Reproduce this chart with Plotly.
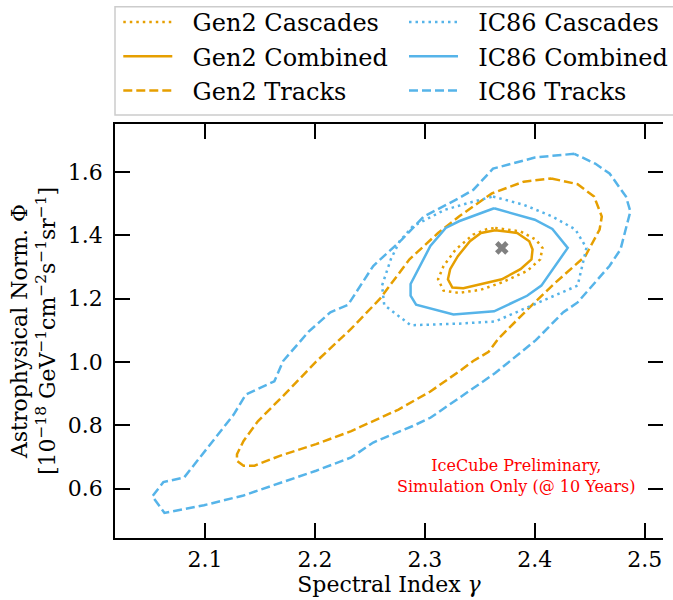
import plotly.graph_objects as go

# ---------------- data ----------------
best_fit_gamma = [2.370]
best_fit_phi = [1.360]

gen2_comb_gamma = [2.364, 2.384, 2.395, 2.398, 2.397, 2.387, 2.370, 2.351, 2.335, 2.325, 2.321, 2.323, 2.330, 2.341, 2.351, 2.364]
gen2_comb_phi = [1.416, 1.407, 1.381, 1.355, 1.324, 1.293, 1.261, 1.246, 1.233, 1.235, 1.261, 1.293, 1.334, 1.381, 1.407, 1.416]

gen2_casc_gamma = [2.364, 2.387, 2.401, 2.407, 2.405, 2.393, 2.370, 2.351, 2.331, 2.317, 2.312, 2.317, 2.328, 2.344, 2.357, 2.364]
gen2_casc_phi = [1.423, 1.412, 1.386, 1.360, 1.324, 1.287, 1.251, 1.228, 1.218, 1.225, 1.261, 1.303, 1.355, 1.402, 1.420, 1.423]

ic86_comb_gamma = [2.363, 2.400, 2.416, 2.430, 2.406, 2.393, 2.363, 2.326, 2.292, 2.287, 2.287, 2.305, 2.319, 2.331, 2.363]
ic86_comb_phi = [1.485, 1.449, 1.420, 1.360, 1.241, 1.209, 1.160, 1.150, 1.181, 1.209, 1.246, 1.366, 1.423, 1.444, 1.485]

ic86_casc_gamma = [2.362, 2.390, 2.416, 2.437, 2.447, 2.444, 2.439, 2.397, 2.364, 2.331, 2.287, 2.263, 2.261, 2.269, 2.277, 2.289, 2.318, 2.341, 2.362]
ic86_casc_phi = [1.522, 1.496, 1.459, 1.418, 1.360, 1.313, 1.241, 1.178, 1.128, 1.121, 1.116, 1.180, 1.241, 1.324, 1.381, 1.428, 1.480, 1.503, 1.522]

gen2_trk_gamma = [2.415, 2.439, 2.454, 2.461, 2.459, 2.446, 2.419, 2.397, 2.367, 2.358, 2.344, 2.331, 2.305,
                  2.276, 2.233, 2.201, 2.168, 2.145, 2.135, 2.129, 2.129, 2.135, 2.148, 2.175, 2.201,
                  2.233, 2.259, 2.286, 2.312, 2.331, 2.361, 2.390, 2.415]
gen2_trk_phi = [1.579, 1.561, 1.522, 1.459, 1.418, 1.334, 1.251, 1.178, 1.074, 1.032, 1.003, 0.970, 0.907,
                0.850, 0.782, 0.741, 0.704, 0.673, 0.673, 0.688, 0.709, 0.751, 0.813, 0.907, 1.001,
                1.105, 1.199, 1.324, 1.407, 1.459, 1.532, 1.569, 1.579]

ic86_trk_gamma = [2.436, 2.400, 2.362, 2.344, 2.331, 2.299, 2.279, 2.253, 2.230, 2.214, 2.194, 2.171,
                  2.163, 2.137, 2.126, 2.099, 2.081, 2.062, 2.052, 2.063, 2.099, 2.135, 2.201, 2.233,
                  2.253, 2.289, 2.305, 2.364, 2.401, 2.426, 2.439, 2.468, 2.478, 2.487, 2.483, 2.468,
                  2.455, 2.436]
ic86_trk_phi = [1.657, 1.645, 1.610, 1.543, 1.517, 1.459, 1.386, 1.303, 1.180, 1.157, 1.095, 1.003,
                0.939, 0.897, 0.834, 0.715, 0.636, 0.621, 0.576, 0.524, 0.548, 0.579, 0.657, 0.699,
                0.746, 0.798, 0.824, 0.965, 1.069, 1.157, 1.188, 1.303, 1.355, 1.475, 1.522, 1.595,
                1.626, 1.657]

x_ticks = [2.1, 2.2, 2.3, 2.4, 2.5]
x_ticklabels = ["2.1", "2.2", "2.3", "2.4", "2.5"]
y_ticks = [0.6, 0.8, 1.0, 1.2, 1.4, 1.6]
y_ticklabels = ["0.6", "0.8", "1.0", "1.2", "1.4", "1.6"]

# ---------------- style ----------------
ORANGE = "#E69F00"
BLUE = "#56B4E9"
FONT = "DejaVu Serif"
LW = 2.5
DASH = "9px,4px"
DOT = "2.5px,4px"
PAD = "\u00a0\u00a0"

fig = go.Figure()

def add(xs, ys, name, color, dash, legend):
    fig.add_trace(go.Scatter(
        x=xs, y=ys, mode="lines", name=PAD + name,
        line=dict(color=color, width=LW, dash=dash),
        legend=legend, legendgroup=name, hoverinfo="skip",
    ))

add(gen2_casc_gamma, gen2_casc_phi, "Gen2 Cascades", ORANGE, DOT, "legend")
add(gen2_comb_gamma, gen2_comb_phi, "Gen2 Combined", ORANGE, "solid", "legend")
add(gen2_trk_gamma, gen2_trk_phi, "Gen2 Tracks", ORANGE, DASH, "legend")
add(ic86_casc_gamma, ic86_casc_phi, "IC86 Cascades", BLUE, DOT, "legend2")
add(ic86_comb_gamma, ic86_comb_phi, "IC86 Combined", BLUE, "solid", "legend2")
add(ic86_trk_gamma, ic86_trk_phi, "IC86 Tracks", BLUE, DASH, "legend2")

fig.add_trace(go.Scatter(
    x=best_fit_gamma, y=best_fit_phi, mode="markers", yaxis="y2",
    marker=dict(symbol="x", size=12, color="#808080"),
    showlegend=False, hoverinfo="skip",
))

legend_common = dict(
    font=dict(family=FONT, size=24, color="black"),
    bgcolor="rgba(0,0,0,0)", borderwidth=0,
    orientation="v", itemwidth=49, tracegroupgap=0,
    xanchor="left", yanchor="top", itemclick=False, itemdoubleclick=False,
)

fig.update_layout(
    width=673, height=600,
    margin=dict(l=115, r=0, t=120, b=62),
    paper_bgcolor="white", plot_bgcolor="white",
    font=dict(family=FONT, size=22, color="black"),
    legend=dict(x=0.006, y=1.300, **legend_common),
    legend2=dict(x=0.5274, y=1.300, **legend_common),
    xaxis=dict(
        range=[2.0180, 2.5167], tickvals=x_ticks, ticktext=x_ticklabels,
        ticks="inside", ticklen=15, tickwidth=1.5, tickcolor="black",
        showline=True, linecolor="black", linewidth=1.5, mirror="ticks",
        showgrid=False, zeroline=False,
        tickfont=dict(family=FONT, size=22, color="black"),
        title=dict(text="Spectral Index <i>γ</i>", font=dict(family=FONT, size=22), standoff=4),
        ticklabelstandoff=1,
    ),
    yaxis=dict(
        range=[0.4447, 1.7509], tickvals=y_ticks, ticktext=y_ticklabels,
        ticks="inside", ticklen=15, tickwidth=1.5, tickcolor="black",
        showline=True, linecolor="black", linewidth=1.5, mirror=False,
        showgrid=False, zeroline=False,
        tickfont=dict(family=FONT, size=22, color="black"),
        title=dict(
            text="Astrophysical Norm. Φ<br>[10<sup>−18</sup> GeV<sup>−1</sup>cm<sup>−2</sup>s<sup>−1</sup>sr<sup>−1</sup>]",
            font=dict(family=FONT, size=22), standoff=6),
        ticklabelstandoff=6,
    ),
    yaxis2=dict(
        overlaying="y", side="right", matches="y",
        tickvals=y_ticks, ticks="inside", ticklen=15, tickwidth=1.5, tickcolor="black",
        showticklabels=False, showline=False, showgrid=False, zeroline=False,
    ),
    shapes=[dict(
        type="rect", xref="paper", yref="paper",
        x0=0.0, x1=1.06, y0=1.022, y1=1.283,
        line=dict(color="#cccccc", width=1.5), fillcolor="white", layer="below",
    )],
    annotations=[dict(
        x=2.3836, y=0.6416, xref="x", yref="y",
        text="IceCube Preliminary,<br>Simulation Only (@ 10 Years)",
        showarrow=False, align="center",
        font=dict(family=FONT, size=16, color="red"),
    )],
)

fig.write_html("out.html", config={"displayModeBar": False},
               post_script="document.body.style.margin='0px';")
